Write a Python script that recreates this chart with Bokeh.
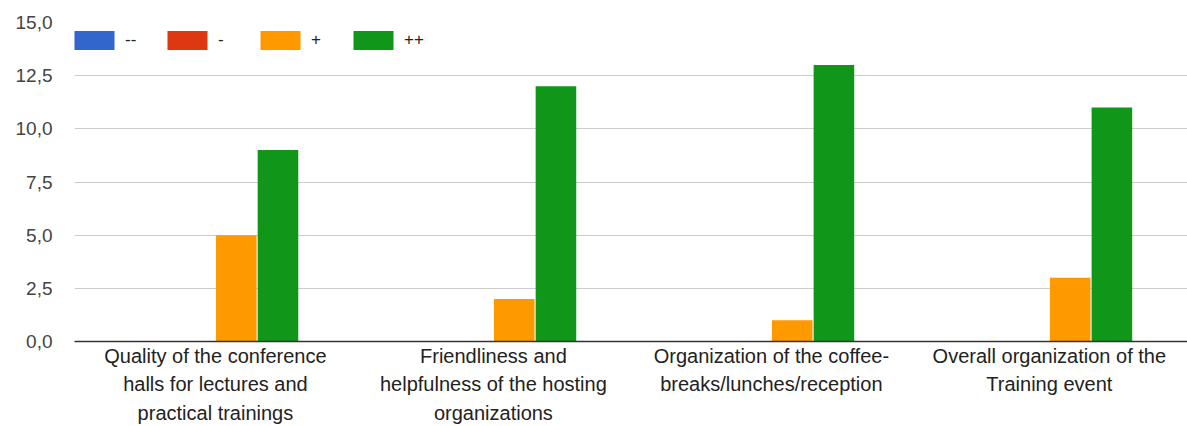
from bokeh.plotting import figure
from bokeh.models import Range1d, FixedTicker, Legend, LegendItem, ColumnDataSource
from bokeh.embed import file_html
from bokeh.resources import INLINE

categories = [
    "Quality of the conference\nhalls for lectures and\npractical trainings",
    "Friendliness and\nhelpfulness of the hosting\norganizations",
    "Organization of the coffee-\nbreaks/lunches/reception",
    "Overall organization of the\nTraining event",
]
series_names = ["--", "-", "+", "++"]
vals_mm = [0, 0, 0, 0]
vals_m = [0, 0, 0, 0]
vals_p = [5, 2, 1, 3]
vals_pp = [9, 12, 13, 11]
series_values = [vals_mm, vals_m, vals_p, vals_pp]
colors = ["#3366cc", "#dc3912", "#ff9900", "#109618"]
y_ticks = [0, 2.5, 5, 7.5, 10, 12.5, 15]
y_tick_labels = ["0,0", "2,5", "5,0", "7,5", "10,0", "12,5", "15,0"]

W, H = 1187, 426
p = figure(width=W, height=H, output_backend="svg", toolbar_location=None,
           x_range=Range1d(-0.007, 3.997), y_range=Range1d(0, 15),
           min_border_left=74, min_border_right=0, min_border_top=22,
           min_border_bottom=82)
p.outline_line_color = None
p.background_fill_color = "white"

centers = [i + 0.5 for i in range(len(categories))]
offsets = [-0.225, -0.075, 0.075, 0.225]
renderers = []
for name, vals, col, off in zip(series_names, series_values, colors, offsets):
    src = ColumnDataSource(dict(x=[c + off for c in centers], top=vals))
    r = p.vbar(x="x", top="top", bottom=0, width=0.146, source=src,
               fill_color=col, line_color=None)
    renderers.append(r)

# axes
p.xaxis.ticker = FixedTicker(ticks=centers)
p.xaxis.major_label_overrides = {c: lab for c, lab in zip(centers, categories)}
p.xaxis.axis_line_color = "#333333"
p.xaxis.axis_line_width = 1.3
p.xaxis.major_tick_line_color = None
p.xaxis.minor_tick_line_color = None
p.xaxis.major_tick_in = 0
p.xaxis.major_tick_out = 0
p.xaxis.major_label_text_font = "Liberation Sans"
p.xaxis.major_label_text_font_size = "20px"
p.xaxis.major_label_text_color = "#222222"
p.xaxis.major_label_text_line_height = 1.3
p.xaxis.major_label_standoff = 3
p.xgrid.grid_line_color = None

p.yaxis.ticker = FixedTicker(ticks=y_ticks)
p.yaxis.major_label_overrides = {t: l for t, l in zip(y_ticks, y_tick_labels)}
p.yaxis.axis_line_color = None
p.yaxis.major_tick_line_color = None
p.yaxis.minor_tick_line_color = None
p.yaxis.major_tick_in = 0
p.yaxis.major_tick_out = 0
p.yaxis.major_label_text_font = "Liberation Sans"
p.yaxis.major_label_text_font_size = "19px"
p.yaxis.major_label_text_color = "#444444"
p.yaxis.major_label_standoff = 22
p.ygrid.grid_line_color = "#cccccc"
p.ygrid.grid_line_width = 1

legend = Legend(items=[LegendItem(label=n, renderers=[r]) for n, r in zip(series_names, renderers)],
                orientation="horizontal", location=(-5, 289))
legend.glyph_width = 50
legend.glyph_height = 24
legend.label_standoff = 6
legend.spacing = 17
legend.padding = 0
legend.margin = 0
legend.border_line_color = None
legend.background_fill_alpha = 0
legend.label_text_font = "Liberation Sans"
legend.label_text_font_size = "17px"
legend.label_text_color = "#222222"
p.add_layout(legend, "center")

open("out.html", "w").write(file_html(p, INLINE))
